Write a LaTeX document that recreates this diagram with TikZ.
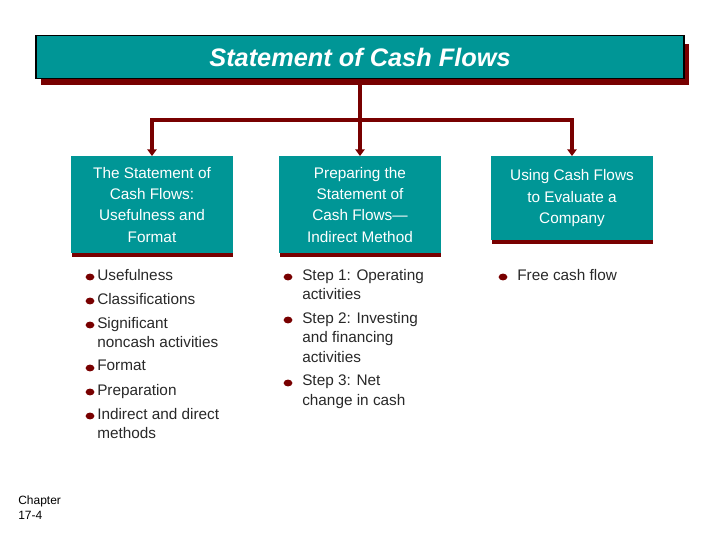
\documentclass[tikz,border=0pt]{standalone}
\usepackage{fontspec}
\setmainfont{Liberation Sans}
\usetikzlibrary{arrows.meta}
\definecolor{teal1}{RGB}{0,150,150}
\definecolor{dred}{RGB}{120,0,0}
\definecolor{txt}{RGB}{40,40,40}
\begin{document}
\begin{tikzpicture}[x=0.75pt,y=-0.75pt,
  hbox/.style={fill=teal1,text=white,minimum width=121pt,align=center,font=\fontsize{11.5}{16}\selectfont,anchor=north,inner sep=0pt},
  conn/.style={draw=dred,line width=3pt},
  bul/.style={fill=dred,ellipse,x radius=4pt},
  item/.style={anchor=north west,text=txt,align=left,font=\fontsize{11.5}{14.5}\selectfont,inner sep=0pt}]
\useasboundingbox (0,0) rectangle (720,540);
% title
\fill[dred] (41,44) rectangle (689,85);
\node[draw=black,line width=1.2pt,fill=teal1,minimum width=486pt,minimum height=32pt,inner sep=0pt,
  text=white,font=\fontsize{19}{20}\selectfont\bfseries\itshape] (title) at (360,57) {Statement of Cash Flows};
% boxes
\foreach \x/\n/\h in {152/b1/97,360/b2/97,572/b3/84}{
  \fill[dred] (\x-80.5,156+\h) rectangle (\x+80.5,156+\h+4);
  \node[hbox,minimum height=\h*0.75pt] (\n) at (\x,156) {};
}
\node[text=white,align=center,font=\fontsize{11.5}{16}\selectfont] at (b1.center) {The Statement of\\Cash Flows:\\Usefulness and\\Format};
\node[text=white,align=center,font=\fontsize{11.5}{16}\selectfont] at (b2.center) {Preparing the\\Statement of\\Cash Flows—\\Indirect Method};
\node[text=white,align=center,font=\fontsize{11.5}{16}\selectfont] at (b3.center) {Using Cash Flows\\to Evaluate a\\Company};
% connectors
\coordinate (j) at (360,120);
\coordinate (l) at (152,120);
\coordinate (r) at (572,120);
\draw[conn] (title.south) -- (j);
\draw[conn,line cap=rect] (l) -- (r);
\draw[conn,-{Triangle[length=5pt,width=7pt]}] (l) -- (b1.north);
\draw[conn,-{Triangle[length=5pt,width=7pt]}] (j) -- (b2.north);
\draw[conn,-{Triangle[length=5pt,width=7pt]}] (r) -- (b3.north);
% bullets column 1
\foreach \y/\t in {269/Usefulness,293/Classifications,317/{Significant\\noncash activities},360/Format,384/Preparation,408/{Indirect and direct\\methods}}{
  \fill[dred] (90,\y+8) ellipse (3.3pt and 2.6pt);
  \node[item] at (97,\y) {\t};
}
\foreach \y/\t in {269/{Step 1: Operating\\activities},312/{Step 2: Investing\\and financing\\activities},375/{Step 3: Net\\change in cash}}{
  \fill[dred] (288,\y+8) ellipse (3.3pt and 2.6pt);
  \node[item] at (302,\y) {\t};
}
\fill[dred] (503,277) ellipse (3.3pt and 2.6pt);
\node[item] at (517,269) {Free cash flow};
\node[anchor=north west,inner sep=0pt,align=left,font=\fontsize{9}{11}\selectfont] at (18,496) {Chapter\\17-4};
\end{tikzpicture}
\end{document}
